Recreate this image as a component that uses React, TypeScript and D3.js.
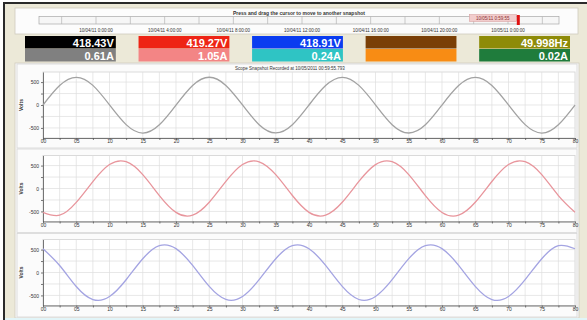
import React, { useRef, useEffect } from "react";
import * as d3 from "d3";

// sample time (ms), every 2.5 ms from 0 to 80
const sampleTimes = d3.range(0, 80.01, 2.5);

// phase voltages (V)
const voltsA = [0, 425, 603, 428, 2, -428, -612, -432, -2, 426, 605, 427, 1, -430, -610, -431, 0, 424, 604, 428, 3, -429, -611, -433, -1, 425, 603, 427, 2, -428, -612, -430, 0];
const voltsB = [-520, -582, -302, 152, 522, 584, 303, -154, -521, -583, -301, 155, 523, 583, 302, -153, -520, -581, -300, 154, 521, 585, 304, -155, -522, -582, -301, 153, 522, 584, 302, -154, -520];
const voltsC = [518, 153, -305, -590, -525, -158, 300, 585, 520, 155, -304, -588, -524, -157, 301, 586, 519, 154, -303, -589, -523, -156, 302, 584, 521, 156, -302, -590, -525, -157, 300, 585, 518];

const seriesColors = ["#a2a2a2", "#e8959c", "#a4a4e2"];

// meter boxes
const topValues = ["418.43V", "419.27V", "418.91V", "", "49.998Hz"];
const bottomValues = ["0.61A", "1.05A", "0.24A", "", "0.02A"];
const topColors = ["#000000", "#ee2414", "#0a3cf0", "#7a3f06", "#8e8b08"];
const bottomColors = ["#808080", "#f38585", "#2fc4c4", "#f88c14", "#1f7c3c"];

// snapshot timeline
const timelineLabels = [
  "10/04/11 0:00:00", "10/04/11 4:00:00", "10/04/11 8:00:00", "10/04/11 12:00:00",
  "10/04/11 16:00:00", "10/04/11 20:00:00", "10/05/11 0:00:00",
];
const timelineHours = [0, 4, 8, 12, 16, 20, 24];
const cursorHour = 24.6;

const xTicks = d3.range(0, 80.01, 5);
const yTicks = [-500, 0, 500];

export default function App() {
  const svgRef = useRef<SVGSVGElement>(null);

  useEffect(() => {
    document.body.style.margin = "0";
    if (!svgRef.current) return;
    const svg = d3.select(svgRef.current);
    svg.selectAll("*").remove();
    const font = "'Liberation Sans', Arial, sans-serif";

    // window frame
    svg.append("rect").attr("width", 587).attr("height", 320).attr("fill", "#ffffff");
    svg.append("rect").attr("x", 5).attr("y", 4).attr("width", 582).attr("height", 316).attr("fill", "#ece9d8");
    svg.append("line").attr("x1", 3).attr("x2", 587).attr("y1", 3).attr("y2", 3).attr("stroke", "#2a2a2a").attr("stroke-width", 2);
    svg.append("line").attr("x1", 4).attr("x2", 4).attr("y1", 3).attr("y2", 320).attr("stroke", "#2a2a2a").attr("stroke-width", 2);

    // snapshot slider panel
    svg.append("rect").attr("x", 15).attr("y", 8).attr("width", 563).attr("height", 26)
      .attr("fill", "#fcfcfc").attr("stroke", "#cfcbbf").attr("stroke-width", 0.8);
    svg.append("text").attr("x", 299).attr("y", 14.5).attr("text-anchor", "middle")
      .style("font-family", font).style("font-size", "5px").style("font-weight", "bold").style("fill", "#333")
      .text("Press and drag the cursor to move to another snapshot");

    const hx = d3.scaleLinear().domain([0, 24]).range([96, 508]);
    svg.append("rect").attr("x", 39).attr("y", 16.5).attr("width", 520).attr("height", 7.5)
      .attr("fill", "#f6f6f6").attr("stroke", "#a8a8a8").attr("stroke-width", 0.7);
    d3.range(-2, 27, 2).forEach(h => {
      const x = hx(h);
      if (x <= 40 || x >= 558) return;
      svg.append("line").attr("x1", x).attr("x2", x).attr("y1", 16.5).attr("y2", 24)
        .attr("stroke", "#b4b4b4").attr("stroke-width", 0.7);
    });
    const cx = hx(cursorHour);
    svg.append("rect").attr("x", cx - 49).attr("y", 14.5).attr("width", 47).attr("height", 7)
      .attr("fill", "#f2cccc").attr("stroke", "#d49a9a").attr("stroke-width", 0.5);
    svg.append("text").attr("x", cx - 25.5).attr("y", 19.5).attr("text-anchor", "middle")
      .style("font-family", font).style("font-size", "4.5px").style("fill", "#8a3030")
      .text("10/05/11 0:59:55");
    svg.append("rect").attr("x", cx - 1.5).attr("y", 15).attr("width", 3).attr("height", 10).attr("fill", "#e01010");

    timelineLabels.forEach((lab, i) => {
      svg.append("text").attr("x", hx(timelineHours[i])).attr("y", 31.5).attr("text-anchor", "middle")
        .style("font-family", font).style("font-size", "4.5px").style("fill", "#333").text(lab);
    });

    // meter boxes
    const boxX = d3.scaleBand<number>().domain(d3.range(5)).range([25, 570]).paddingInner(0.2);
    topValues.forEach((v, i) => {
      const x = boxX(i)!;
      const w = boxX.bandwidth();
      svg.append("rect").attr("x", x).attr("y", 36).attr("width", w).attr("height", 12.5).attr("fill", topColors[i]);
      svg.append("rect").attr("x", x).attr("y", 49).attr("width", w).attr("height", 12.5).attr("fill", bottomColors[i]);
      svg.append("text").attr("x", x + w - 2).attr("y", 46.5).attr("text-anchor", "end")
        .style("font-family", font).style("font-size", "11px").style("font-weight", "bold").style("fill", "#fff").text(v);
      svg.append("text").attr("x", x + w - 2).attr("y", 59.5).attr("text-anchor", "end")
        .style("font-family", font).style("font-size", "11px").style("font-weight", "bold").style("fill", "#fff").text(bottomValues[i]);
    });

    // scope frame
    svg.append("rect").attr("x", 15).attr("y", 63).attr("width", 564).attr("height", 255)
      .attr("fill", "#fbfbfb").attr("stroke", "#cfcbbf").attr("stroke-width", 0.8);
    svg.append("text").attr("x", 290).attr("y", 69.5).attr("text-anchor", "middle")
      .style("font-family", font).style("font-size", "4.5px").style("fill", "#333")
      .text("Scope Snapshot Recorded at 10/05/2011 00:59:55.793");
    svg.append("rect").attr("x", 5).attr("y", 318).attr("width", 582).attr("height", 2).attr("fill", "#e2f5f8");

    const xScale = d3.scaleLinear().domain([0, 80]).range([43, 575]);
    const panelTops = [72, 155.5, 239.5];
    const panelBoxes = [[64, 148], [149, 232.5], [233.5, 317]];
    const plotH = 66;
    const series = [voltsA, voltsB, voltsC];

    series.forEach((vals, i) => {
      const top = panelTops[i];
      const yScale = d3.scaleLinear().domain([-720, 720]).range([top + plotH, top]);

      svg.append("rect").attr("x", 17).attr("y", panelBoxes[i][0]).attr("width", 560)
        .attr("height", panelBoxes[i][1] - panelBoxes[i][0])
        .attr("fill", "none").attr("stroke", "#d6d6d6").attr("stroke-width", 0.8);

      const g = svg.append("g");
      g.append("rect").attr("x", xScale(0)).attr("y", top).attr("width", xScale(80) - xScale(0)).attr("height", plotH)
        .attr("fill", "#ffffff").attr("stroke", "#d2d2d2").attr("stroke-width", 0.8);

      // grid
      d3.range(2.5, 80, 2.5).forEach(t => {
        g.append("line").attr("x1", xScale(t)).attr("x2", xScale(t)).attr("y1", top).attr("y2", top + plotH)
          .attr("stroke", "#dedede").attr("stroke-width", 0.7);
      });
      d3.range(-500, 501, 250).forEach(v => {
        g.append("line").attr("x1", xScale(0)).attr("x2", xScale(80)).attr("y1", yScale(v)).attr("y2", yScale(v))
          .attr("stroke", "#dedede").attr("stroke-width", 0.7);
      });

      // axes
      const xAxis = g.append("g").attr("transform", `translate(0,${top + plotH})`)
        .call(d3.axisBottom(xScale).tickValues(d3.range(0, 80.01, 2.5)).tickSize(2).tickSizeOuter(0)
          .tickFormat(d => (xTicks.includes(Number(d)) ? d3.format("02d")(Number(d)) : "")));
      xAxis.selectAll("path, line").style("stroke", "#555").style("stroke-width", 0.8);
      xAxis.selectAll("text").attr("dy", "0.45em").attr("y", 3).style("font-family", font).style("font-size", "5px").style("fill", "#333");

      const yAxis = g.append("g").attr("transform", `translate(${xScale(0)},0)`)
        .call(d3.axisLeft(yScale).tickValues(d3.range(-500, 501, 250)).tickSize(2).tickSizeOuter(0)
          .tickFormat(d => (yTicks.includes(Number(d)) ? `${d}` : "")));
      yAxis.selectAll("path, line").style("stroke", "#555").style("stroke-width", 0.8);
      yAxis.selectAll("text").attr("x", -4).style("font-family", font).style("font-size", "5px").style("fill", "#333");

      g.append("text").attr("transform", `translate(22.5,${top + plotH / 2}) rotate(-90)`).attr("text-anchor", "middle")
        .style("font-family", font).style("font-size", "5px").style("font-weight", "bold").style("fill", "#333")
        .text("Volts");

      const line = d3.line<number>()
        .x((_, j) => xScale(sampleTimes[j]))
        .y(d => yScale(d))
        .curve(d3.curveNatural);
      g.append("path").datum(vals).attr("fill", "none").attr("stroke", seriesColors[i])
        .attr("stroke-width", 1.3).attr("d", line);
    });
  }, []);

  return <svg ref={svgRef} width={587} height={320} style={{ display: "block" }} />;
}
